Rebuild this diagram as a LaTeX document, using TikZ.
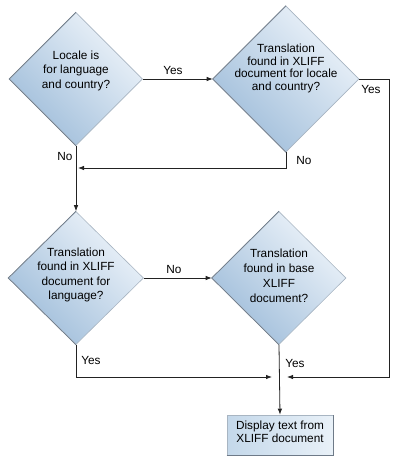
\documentclass[tikz,border=0pt]{standalone}
\usepackage{fontspec}
\setmainfont{Liberation Sans}
\usetikzlibrary{shapes.geometric,arrows.meta}
\definecolor{dlight}{HTML}{EEF4FA}
\definecolor{dblue}{HTML}{9FBDDA}
\definecolor{edgedark}{HTML}{6E7A88}
\definecolor{edgelight}{HTML}{A8B5C2}
\definecolor{linec}{HTML}{222222}
\definecolor{boxl}{HTML}{C4D8EA}
\definecolor{boxr}{HTML}{E9F1F8}
\tikzset{
  dia/.style={diamond,aspect=1,inner sep=0pt,shading=axis,top color=dlight,bottom color=dblue,shading angle=-45,draw=edgelight,line width=0.6pt},
  txt/.style={align=center,font=\fontsize{11.8}{14.5}\selectfont,inner sep=0pt},
  lbl/.style={font=\fontsize{11.8}{14}\selectfont,inner sep=0pt},
  conn/.style={draw=linec,line width=0.8pt},
  arr/.style={conn,-{Latex[length=6pt,width=4.5pt]}},
  boxst/.style={rectangle,draw=edgelight,line width=0.6pt,left color=boxl,right color=boxr,minimum width=106pt,minimum height=40pt,inner sep=0pt},
}
\begin{document}
\begin{tikzpicture}[x=1pt,y=-1pt]
\useasboundingbox (0,0) rectangle (402,464);
% diamonds
\node[dia,minimum width=133pt,minimum height=133pt] (d1) at (76,79) {};
\node[dia,minimum width=146pt,minimum height=146pt] (d2) at (286,79) {};
\node[dia,minimum width=135pt,minimum height=133pt] (d3) at (76,278) {};
\node[dia,minimum width=134pt,minimum height=133pt] (d4) at (279,278) {};
% darker lower-left edges
\foreach \d in {d1,d2,d3,d4}{
  \draw[draw=edgedark,line width=0.7pt] (\d.north) -- (\d.west) -- (\d.south);
}
% texts
\node[txt] (t1) at (76,70.5) {Locale is\\for language\\and country?};
\node[txt,font=\fontsize{11.8}{12.4}\selectfont] (t2) at (286,68.5) {Translation\\found in XLIFF\\document for locale\\and country?};
\node[txt] (t3) at (76,275) {Translation\\found in XLIFF\\document for\\language?};
\node[txt,font=\fontsize{11.8}{15}\selectfont] (t4) at (279,275.5) {Translation\\found in base\\XLIFF\\document?};
% box
\node[boxst] (bx) at (280,435) {};
\draw[draw=edgedark,line width=0.9pt] (bx.south west) -- (bx.south east) -- (bx.north east);
\node[txt,font=\fontsize{11.8}{12.7}\selectfont] (bt) at (280,432) {Display text from\\XLIFF document};
% coordinates
\coordinate (c2r) at (389,79);
\coordinate (c2rb) at (389,377);
\coordinate (mR) at (287,377);
\coordinate (c2b) at (286,168);
\coordinate (m1) at (78,168);
\coordinate (c3b) at (76,377);
\coordinate (mL) at (272,377);
% connectors
\draw[arr] (d1.east) -- (d2.west);
\draw[arr] (d2.east) -- (c2r) -- (c2rb) -- (mR);
\draw[arr] (d2.south) -- (c2b) -- (m1);
\draw[arr] (d1.south) -- (d3.north);
\draw[arr] (d3.east) -- (d4.west);
\draw[arr] (d3.south) -- (c3b) -- (mL);
\draw[arr] (d4.south) -- (bx.north);
% labels
\node[lbl] (l1) at (173,70) {Yes};
\node[lbl] (l2) at (371,89) {Yes};
\node[lbl] (l3) at (304,160) {No};
\node[lbl] (l4) at (65,156) {No};
\node[lbl] (l5) at (174,269) {No};
\node[lbl] (l6) at (91,360) {Yes};
\node[lbl] (l7) at (295,363) {Yes};
\end{tikzpicture}
\end{document}
